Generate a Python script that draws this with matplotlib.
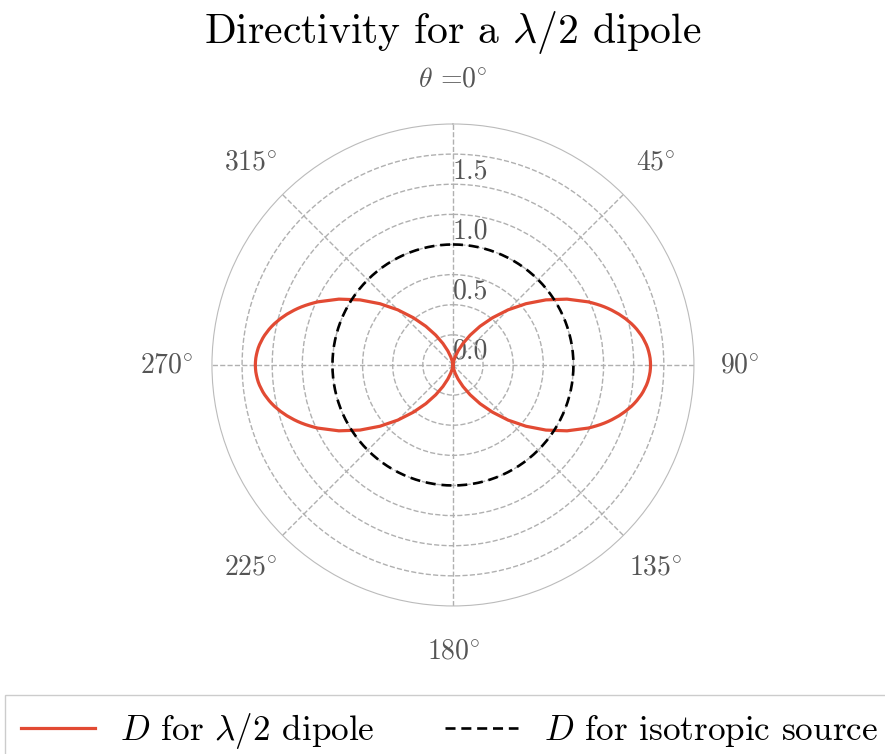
import numpy as np
import matplotlib
matplotlib.use("Agg")
import matplotlib.pyplot as plt

plt.rcParams["font.family"] = "serif"
plt.rcParams["font.serif"] = ["cmr10"]
plt.rcParams["mathtext.fontset"] = "cm"
plt.rcParams["axes.unicode_minus"] = False

# directivity of the half-wave dipole over 0..90 deg (pattern is symmetric),
# finer steps near broadside where the lobe is most curved
quarter_deg = [0, 5, 10, 15, 20, 25, 30, 35, 40, 45, 50, 55, 60, 65,
               66, 67, 68, 69, 70, 71, 72, 73, 74, 75, 76, 77, 78,
               79, 80, 81, 82, 83, 84, 85, 86, 87, 88, 89, 90]
quarter_D = [0.0, 0.008, 0.031, 0.070, 0.125, 0.197, 0.286, 0.392, 0.512, 0.647,
             0.791, 0.942, 1.093, 1.239,
             1.266, 1.293, 1.320, 1.346, 1.371, 1.395, 1.418, 1.441, 1.462, 1.483,
             1.502, 1.521, 1.538, 1.554, 1.568, 1.582, 1.594, 1.604, 1.614, 1.622,
             1.628, 1.633, 1.637, 1.639, 1.640]
iso_D = 1.0

theta_ticks = [0, 45, 90, 135, 180, 225, 270, 315]
theta_labels = [r"$\theta$ =$0\!^\circ$", r"$45\!^\circ$", r"$90\!^\circ$",
                r"$135\!^\circ$", r"$180\!^\circ$", r"$225\!^\circ$",
                r"$270\!^\circ$", r"$315\!^\circ$"]
r_ticks = [0.0, 0.25, 0.5, 0.75, 1.0, 1.25, 1.5, 1.75]
r_labels = ["0.0", "", "0.5", "", "1.0", "", "1.5", ""]

# mirror the quarter into the full 0..360 pattern
q_deg = np.array(quarter_deg, dtype=float)
q_D = np.array(quarter_D)
half_deg = np.concatenate([q_deg, 180 - q_deg[-2::-1]])
half_D = np.concatenate([q_D, q_D[-2::-1]])
full_deg = np.concatenate([half_deg, 360 - half_deg[-2::-1]])
full_D = np.concatenate([half_D, half_D[-2::-1]])
theta = np.deg2rad(full_deg)
theta_iso = np.deg2rad(np.arange(0, 361, 1))

fig = plt.figure(figsize=(8.85, 7.54), dpi=100)
ax = fig.add_axes([0.2395, 0.1963, 0.5446, 0.6393], projection="polar")
ax.set_theta_zero_location("N")
ax.set_theta_direction(-1)

red_line, = ax.plot(theta, full_D, color="#E24A33", lw=2.3,
                    label=r"$D$ for $\lambda/2$ dipole")
iso_line, = ax.plot(theta_iso, np.full(len(theta_iso), iso_D), color="black", lw=1.9,
                    ls=(0, (3.8, 2.2)), label=r"$D$ for isotropic source")

ax.set_ylim(0, 2.0)
ax.set_yticks(r_ticks)
ax.set_yticklabels(r_labels)
ax.set_rlabel_position(0)
ax.set_xticks(np.deg2rad(theta_ticks))
ax.set_xticklabels(theta_labels)
ax.tick_params(axis="x", labelsize=20, colors="#555555", pad=22)
ax.tick_params(axis="y", labelsize=20, colors="#555555")
for lbl in ax.get_yticklabels():
    lbl.set_horizontalalignment("left")
ax.grid(True, color="#b0b0b0", ls="--", lw=1.0)
ax.spines["polar"].set_color("#bbbbbb")
ax.spines["polar"].set_linewidth(0.8)

fig.text(453 / 885, 1 - 32 / 754, r"Directivity for a $\lambda/2$ dipole",
         ha="center", va="center", fontsize=30)

leg = fig.legend(handles=[red_line, iso_line], loc="upper left", ncol=2,
                 bbox_to_anchor=(5 / 885, 1 - 695 / 754), fontsize=25.3,
                 fancybox=False, edgecolor="#cccccc", framealpha=1,
                 handlelength=2.1, handletextpad=0.72, columnspacing=2.0,
                 borderpad=0.45, borderaxespad=0)
leg.get_frame().set_linewidth(1.0)

fig.savefig("out.png", dpi=100)
